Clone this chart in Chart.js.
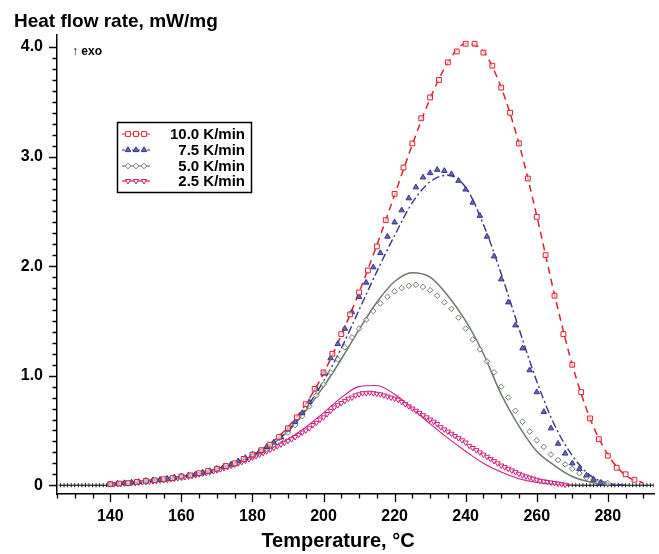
<!DOCTYPE html>
<html>
<head>
<meta charset="utf-8">
<script src="https://cdn.jsdelivr.net/npm/chart.js@4"></script>
<style>
  body { margin: 0; background: #fff; }
  #wrap { width: 659px; height: 554px; }
</style>
</head>
<body>
<div id="wrap"><canvas id="chart1" width="659" height="554"></canvas></div>
<script>
// model curves (lines), every 5 °C
const modelT = [140, 145, 150, 155, 160, 165, 170, 175, 180, 185, 190, 195, 200, 205, 210, 215,
  220, 225, 230, 235, 240, 245, 250, 255, 260, 265, 270, 275, 280, 285, 290];
const model10 = [0.01, 0.02, 0.04, 0.055, 0.08, 0.11, 0.15, 0.20, 0.28, 0.38, 0.53, 0.74, 1.02, 1.37, 1.76, 2.19,
  2.65, 3.11, 3.53, 3.86, 4.03, 3.96, 3.63, 3.12, 2.46, 1.74, 1.10, 0.61, 0.28, 0.09, 0.02];
const model75 = [0.01, 0.02, 0.03, 0.05, 0.08, 0.11, 0.15, 0.20, 0.27, 0.37, 0.50, 0.70, 0.95, 1.25, 1.60, 1.95,
  2.28, 2.58, 2.77, 2.83, 2.72, 2.38, 1.93, 1.43, 0.95, 0.55, 0.27, 0.09, 0.02, 0, null];
const model50 = [0.01, 0.02, 0.03, 0.05, 0.08, 0.11, 0.15, 0.20, 0.27, 0.36, 0.49, 0.68, 0.90, 1.15, 1.42, 1.67,
  1.86, 1.94, 1.90, 1.73, 1.50, 1.20, 0.83, 0.54, 0.31, 0.18, 0.08, 0.03, 0, null, null];
const model25 = [0.01, 0.016, 0.03, 0.047, 0.07, 0.10, 0.137, 0.19, 0.25, 0.33, 0.42, 0.53, 0.66, 0.80, 0.90, 0.91,
  0.83, 0.70, 0.56, 0.43, 0.31, 0.20, 0.12, 0.06, 0.025, 0.01, 0, null, null, null, null];

// measured points: start temperature, step, values
const meas10Start = 140, meas10Step = 2.5;
const meas10 = [0.01, 0.015, 0.02, 0.03, 0.04, 0.045, 0.055, 0.065, 0.08, 0.09,
  0.11, 0.13, 0.15, 0.175, 0.20, 0.24, 0.28, 0.32, 0.37, 0.44,
  0.52, 0.62, 0.74, 0.88, 1.03, 1.20, 1.38, 1.56, 1.76, 1.96,
  2.18, 2.42, 2.66, 2.90, 3.12, 3.35, 3.54, 3.70, 3.86, 3.96,
  4.03, 4.03, 3.95, 3.83, 3.63, 3.40, 3.12, 2.80, 2.45, 2.10,
  1.73, 1.38, 1.10, 0.85, 0.61, 0.42, 0.27, 0.16, 0.10, 0.05];

const meas75Start = 140, meas75Step = 2;
const meas75 = [0.01, 0.015, 0.02, 0.025, 0.03, 0.04, 0.045, 0.05, 0.06, 0.07,
  0.08, 0.09, 0.10, 0.115, 0.13, 0.15, 0.17, 0.19, 0.22, 0.25,
  0.28, 0.31, 0.35, 0.39, 0.44, 0.51, 0.58, 0.66, 0.76, 0.88,
  1.02, 1.16, 1.29, 1.43, 1.58, 1.72, 1.85, 1.99, 2.12, 2.27,
  2.40, 2.51, 2.62, 2.72, 2.81, 2.85, 2.88, 2.87, 2.84, 2.78,
  2.70, 2.58, 2.46, 2.27, 2.09, 1.88, 1.67, 1.46, 1.25, 1.05,
  0.85, 0.67, 0.52, 0.38, 0.29, 0.20, 0.15, 0.09, 0.05, 0.02];

const meas50Start = 140, meas50Step = 2;
const meas50 = [0.01, 0.015, 0.02, 0.025, 0.03, 0.04, 0.045, 0.05, 0.06, 0.07,
  0.08, 0.09, 0.10, 0.115, 0.13, 0.15, 0.17, 0.19, 0.21, 0.24,
  0.27, 0.30, 0.33, 0.37, 0.42, 0.48, 0.55, 0.63, 0.72, 0.82,
  0.92, 1.03, 1.15, 1.26, 1.35, 1.43, 1.51, 1.59, 1.66, 1.72,
  1.77, 1.80, 1.82, 1.83, 1.81, 1.78, 1.73, 1.67, 1.61, 1.53,
  1.43, 1.33, 1.24, 1.13, 1.03, 0.90, 0.80, 0.68, 0.58, 0.49,
  0.41, 0.35, 0.28, 0.23, 0.19, 0.15, 0.11, 0.07, 0.05, 0.03, 0.02];

const meas25Start = 140, meas25Step = 1;
const meas25 = [0.01, 0.01, 0.012, 0.014, 0.016, 0.018, 0.02, 0.022, 0.025, 0.028,
  0.03, 0.033, 0.036, 0.04, 0.043, 0.047, 0.05, 0.055, 0.06, 0.065,
  0.07, 0.075, 0.08, 0.086, 0.092, 0.10, 0.106, 0.113, 0.12, 0.128,
  0.137, 0.146, 0.156, 0.166, 0.177, 0.188, 0.20, 0.212, 0.225, 0.238,
  0.252, 0.266, 0.28, 0.295, 0.31, 0.325, 0.34, 0.356, 0.372, 0.388,
  0.405, 0.42, 0.44, 0.46, 0.48, 0.50, 0.52, 0.55, 0.57, 0.60,
  0.62, 0.65, 0.68, 0.71, 0.73, 0.75, 0.77, 0.79, 0.80, 0.82,
  0.83, 0.84, 0.84, 0.845, 0.84, 0.835, 0.83, 0.82, 0.81, 0.80,
  0.79, 0.78, 0.76, 0.74, 0.72, 0.70, 0.68, 0.66, 0.64, 0.62,
  0.60, 0.58, 0.56, 0.53, 0.51, 0.49, 0.47, 0.45, 0.43, 0.41,
  0.39, 0.36, 0.34, 0.32, 0.30, 0.28, 0.26, 0.24, 0.22, 0.20,
  0.18, 0.165, 0.15, 0.135, 0.12, 0.105, 0.09, 0.08, 0.07, 0.06,
  0.05, 0.04, 0.035, 0.03, 0.025, 0.02, 0.015, 0.01, 0.005];

// instrument baseline shown outside the peaks
const baselineLeft = [126, 139];
const baselineRight = [269, 293];
const baselineLevel = 0;

const seriesNames = ["10.0 K/min", "7.5 K/min", "5.0 K/min", "2.5 K/min"];
const colors = ["#d8232f", "#34348c", "#6b7a6b", "#cc1f80"];

const xTickLabels = [140, 160, 180, 200, 220, 240, 260, 280];
const yTickLabels = [0, 1, 2, 3, 4];

function pts(start, step, vals) {
  return vals.map((v, i) => ({ x: start + i * step, y: v }));
}
function modelPts(vals) {
  return modelT.map((t, i) => ({ x: t, y: vals[i] }));
}
function baselinePts() {
  const out = [];
  for (const seg of [baselineLeft, baselineRight]) {
    for (let t = seg[0]; t <= seg[1]; t += 1) out.push({ x: t, y: baselineLevel });
  }
  return out;
}

const markerStyles = [
  { pointStyle: "rect", radius: 3.4, rotation: 0, fill: "rgba(255,255,255,0.6)", border: colors[0] },
  { pointStyle: "triangle", radius: 3.2, rotation: 0, fill: "#6a6ab0", border: colors[1] },
  { pointStyle: "rectRot", radius: 2.8, rotation: 0, fill: "rgba(255,255,255,0.6)", border: colors[2] },
  { pointStyle: "triangle", radius: 3, rotation: 180, fill: "rgba(255,255,255,0.5)", border: colors[3] },
];
const lineDashes = [[7, 5], [8, 3, 2, 3], [], []];
const lineWidths = [1.5, 1.4, 1.5, 1.1];

function markerSet(data, k) {
  const m = markerStyles[k];
  return {
    data: data, showLine: false, order: 1 + k,
    pointStyle: m.pointStyle, pointRadius: m.radius, pointRotation: m.rotation,
    pointBackgroundColor: m.fill, pointBorderColor: m.border, pointBorderWidth: 1,
  };
}
function lineSet(data, k) {
  return {
    data: data, showLine: true, order: 6 + k, pointRadius: 0,
    borderColor: colors[k], borderWidth: lineWidths[k], borderDash: lineDashes[k],
    cubicInterpolationMode: "monotone", fill: false, spanGaps: false,
  };
}

const FONT = "'Liberation Sans', Arial, sans-serif";

Chart.register({
  id: "frameExtras",
  afterDraw: function (chart) {
    const ctx = chart.ctx;
    const xs = chart.scales.x, ys = chart.scales.y;
    const area = chart.chartArea;
    ctx.save();
    ctx.strokeStyle = "#000";
    ctx.lineWidth = 1.3;
    // tick marks
    ctx.beginPath();
    xs.ticks.forEach(t => {
      const px = Math.round(xs.getPixelForValue(t.value)) + 0.5;
      const len = t.value % 20 === 0 ? 8 : 4.5;
      ctx.moveTo(px, area.bottom);
      ctx.lineTo(px, area.bottom + len);
    });
    ys.ticks.forEach(t => {
      const py = Math.round(ys.getPixelForValue(t.value)) + 0.5;
      const major = Math.abs(t.value - Math.round(t.value)) < 1e-6;
      ctx.moveTo(area.left, py);
      ctx.lineTo(area.left - (major ? 8 : 4.5), py);
    });
    ctx.stroke();

    // titles
    ctx.fillStyle = "#000";
    ctx.textBaseline = "middle";
    ctx.textAlign = "left";
    ctx.font = "bold 19px " + FONT;
    ctx.fillText("Heat flow rate, mW/mg", 14, 22);
    ctx.font = "bold 12px " + FONT;
    ctx.fillText("\u2191 exo", 72, 52);
    ctx.textAlign = "center";
    ctx.font = "bold 20px " + FONT;
    ctx.fillText("Temperature, \u00b0C", 338, 541);

    // legend box
    ctx.lineWidth = 1.5;
    ctx.strokeRect(117.5, 122.5, 134, 70);
    const rowY = [134, 150, 166, 181];
    seriesNames.forEach((name, k) => {
      const y = rowY[k];
      ctx.save();
      ctx.strokeStyle = colors[k];
      ctx.lineWidth = 1.2;
      ctx.setLineDash(lineDashes[k].length ? [3, 2] : []);
      ctx.beginPath();
      ctx.moveTo(122, y);
      ctx.lineTo(150, y);
      ctx.stroke();
      ctx.setLineDash([]);
      const m = markerStyles[k];
      [128, 136, 144].forEach(x => {
        ctx.fillStyle = k === 1 ? m.fill : "#fff";
        ctx.strokeStyle = m.border;
        ctx.lineWidth = 1;
        Chart.helpers.drawPoint(ctx, { pointStyle: m.pointStyle, radius: m.radius, rotation: m.rotation, borderWidth: 1 }, x, y);
      });
      ctx.restore();
      ctx.fillStyle = "#000";
      ctx.textAlign = "right";
      ctx.font = "bold 15px " + FONT;
      ctx.fillText(name, 245, y + 1);
    });
    ctx.restore();
  },
});

const datasets = [
  {
    data: baselinePts(), showLine: false, order: 20,
    pointStyle: "cross", pointRadius: 2, pointBorderColor: "#111", pointBorderWidth: 1,
  },
  lineSet(modelPts(model10), 0),
  lineSet(modelPts(model75), 1),
  lineSet(modelPts(model50), 2),
  lineSet(modelPts(model25), 3),
  markerSet(pts(meas10Start, meas10Step, meas10), 0),
  markerSet(pts(meas75Start, meas75Step, meas75), 1),
  markerSet(pts(meas50Start, meas50Step, meas50), 2),
  markerSet(pts(meas25Start, meas25Step, meas25), 3),
];

new Chart(document.getElementById("chart1"), {
  type: "scatter",
  data: { datasets: datasets },
  options: {
    responsive: false,
    animation: false,
    devicePixelRatio: 1,
    layout: { padding: { top: 35, right: 2, left: 0, bottom: 0 } },
    plugins: { legend: { display: false }, tooltip: { enabled: false } },
    scales: {
      x: {
        type: "linear", min: 125, max: 293,
        grid: { display: false, drawTicks: false },
        border: { display: true, color: "#000", width: 1.5 },
        afterBuildTicks: function (scale) {
          const t = [];
          for (let v = 125; v <= 290; v += 5) t.push({ value: v });
          scale.ticks = t;
        },
        afterFit: function (scale) { scale.height = 60; },
        ticks: {
          autoSkip: false, maxRotation: 0, padding: 13, color: "#000",
          font: { family: FONT, size: 16, weight: "bold" },
          callback: v => (xTickLabels.includes(v) ? String(v) : ""),
        },
      },
      y: {
        type: "linear", min: -0.08, max: 4.11,
        grid: { display: false, drawTicks: false },
        border: { display: true, color: "#000", width: 1.5 },
        afterBuildTicks: function (scale) {
          const t = [];
          for (let i = 0; i <= 40; i++) t.push({ value: i / 10 });
          scale.ticks = t;
        },
        afterFit: function (scale) { scale.width = 57; },
        ticks: {
          autoSkip: false, padding: 14, color: "#000",
          font: { family: FONT, size: 16, weight: "bold" },
          callback: function (v) {
            const n = Math.round(v * 10);
            if (n % 10 !== 0 || !yTickLabels.includes(n / 10)) return "";
            return n === 0 ? "0" : (n / 10).toFixed(1);
          },
        },
      },
    },
  },
});
</script>
</body>
</html>
